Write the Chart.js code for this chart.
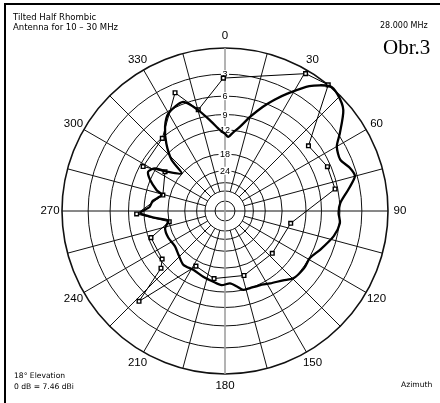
<!DOCTYPE html>
<html>
<head>
<meta charset="utf-8">
<script src="https://cdn.jsdelivr.net/npm/chart.js@4"></script>
<style>
  html, body { margin: 0; padding: 0; background: #fff; }
  #wrap { width: 440px; height: 403px; }
</style>
</head>
<body>
<div id="wrap"><canvas id="chart" width="440" height="403"></canvas></div>
<script>
// azimuth (deg) / relative gain (dB) in path order
const THICK_AZ = [0, 2.5, 6, 10, 15, 20, 24, 28, 34, 40, 44, 49.5, 56, 60, 66, 71, 75, 80, 86, 91, 96,
  103, 112, 119, 126, 134.6, 140, 148, 155, 162, 167, 171, 176, 182.6, 189.4, 198.3, 208, 217.7,
  226, 235, 245, 254, 260.3, 264, 268.5, 273, 278, 284.2, 287.1, 292.5, 297.1, 301.4, 304, 311,
  313.7, 319, 324.6, 330, 339, 345, 351, 356.5, 360];
const THICK_DB = [-12.8, -13.5, -12.4, -11.1, -8.8, -6.6, -5.0, -3.5, -1.35, 0, -0.1, -0.8, -2.8, -4.0,
  -4.4, -3.6, -3.3, -4.5, -5.9, -6.2, -5.9, -6.5, -7.9, -8.9, -8.8, -9.1, -10.1, -11.1, -11.8, -12.0,
  -12.0, -13.0, -13.9, -13.5, -14.1, -14.7, -15.3, -15.0, -16.0, -16.8, -16.4, -16.5, -17.9, -14.8,
  -11.2, -13.2, -13.8, -15.7, -14.1, -12.0, -10.9, -11.8, -14.4, -17.9, -13.6, -10.3, -7.8, -6.3,
  -5.7, -7.6, -10, -12, -12.8];

const MARK_AZ = [359.3, 30.4, 39.3, 52.0, 66.6, 78.7, 100.6, 131.8, 163.6, 189.2, 207.8, 223.6, 228.2,
  232.6, 250.2, 259.1, 268.1, 284.4, 303.2, 298.5, 319.2, 337.1, 345.2, 359.3];
const MARK_DB = [-3.5, -0.4, 0, -7.4, -6.5, -6.4, -15.3, -16.2, -15.2, -14.9, -16.5, -4.6, -11.0,
  -12.4, -12.5, -18.1, -10.5, -16.0, -14.1, -9.6, -9.1, -4.1, -7.6, -3.5];

const RING_DB = [0, -3, -6, -9, -12, -18, -24, -30, -36, -48];
const TICK_DB = [-3, -6, -9, -12, -18, -24];
const ANGLE_LABELS = ["0", "30", "60", "90", "120", "150", "180", "210", "240", "270", "300", "330"];

// ARRL log-periodic scale: 0.89 per 2 dB
function arrl(db) {
  return Math.pow(0.89, -db / 2);
}

function toXY(azList, dbList) {
  return azList.map((az, i) => {
    const a = az * Math.PI / 180;
    const r = arrl(dbList[i]);
    return { x: r * Math.sin(a), y: r * Math.cos(a) };
  });
}

const polarGrid = {
  id: "polarGrid",
  beforeDraw(chart) {
    const ctx = chart.ctx;
    ctx.save();
    ctx.fillStyle = "#fff";
    ctx.fillRect(0, 0, chart.width, chart.height);
    ctx.strokeStyle = "#000";
    ctx.lineWidth = 2;
    ctx.beginPath();
    ctx.moveTo(5, 403);
    ctx.lineTo(5, 4);
    ctx.lineTo(440, 4);
    ctx.stroke();

    ctx.fillStyle = "#000";
    ctx.textBaseline = "alphabetic";
    ctx.textAlign = "left";
    ctx.font = "8.5px 'DejaVu Sans'";
    ctx.fillText("Tilted Half Rhombic", 13, 20);
    ctx.fillText("Antenna for 10 \u2013 30 MHz", 13, 30);
    ctx.font = "8px 'DejaVu Sans'";
    ctx.fillText("28.000 MHz", 380, 28);
    ctx.font = "7.6px 'DejaVu Sans'";
    ctx.fillText("18\u00b0 Elevation", 14, 378);
    ctx.fillText("0 dB = 7.46 dBi", 14, 389);
    ctx.fillText("Azimuth", 401, 387);
    ctx.font = "21px 'Liberation Serif'";
    ctx.fillText("Obr.3", 383, 54);
    ctx.restore();
  },
  beforeDatasetsDraw(chart) {
    const { ctx, scales: { x, y } } = chart;
    const cx = x.getPixelForValue(0);
    const cy = y.getPixelForValue(0);
    const R = x.getPixelForValue(1) - cx;
    ctx.save();
    ctx.strokeStyle = "#111";

    RING_DB.forEach((db) => {
      ctx.lineWidth = db === 0 ? 1.6 : 1;
      ctx.beginPath();
      ctx.arc(cx, cy, R * arrl(db), 0, Math.PI * 2);
      ctx.stroke();
    });

    const rIn = R * arrl(-36);
    ctx.lineWidth = 1;
    for (let a = 0; a < 360; a += 15) {
      if (a % 90 === 0) continue;
      const t = a * Math.PI / 180;
      ctx.beginPath();
      ctx.moveTo(cx + rIn * Math.sin(t), cy - rIn * Math.cos(t));
      ctx.lineTo(cx + R * Math.sin(t), cy - R * Math.cos(t));
      ctx.stroke();
    }
    ctx.beginPath();
    ctx.moveTo(cx - R, cy);
    ctx.lineTo(cx + R, cy);
    ctx.stroke();
    ctx.strokeStyle = "#a0a0a0";
    ctx.lineWidth = 1.6;
    ctx.beginPath();
    ctx.moveTo(cx, cy - R);
    ctx.lineTo(cx, cy + R);
    ctx.stroke();

    ctx.font = "9px 'Liberation Sans'";
    ctx.textAlign = "center";
    ctx.textBaseline = "middle";
    TICK_DB.forEach((db) => {
      const ty = cy - R * arrl(db);
      const label = String(-db);
      const w = ctx.measureText(label).width;
      ctx.fillStyle = "#fff";
      ctx.fillRect(cx - w / 2 - 1.5, ty - 4, w + 3, 8);
      ctx.fillStyle = "#000";
      ctx.fillText(label, cx, ty + 0.5);
    });

    ctx.font = "11.5px 'Liberation Sans'";
    ANGLE_LABELS.forEach((label, i) => {
      const t = i * 30 * Math.PI / 180;
      const r = R + 12;
      ctx.fillText(label, cx + r * Math.sin(t), cy - r * Math.cos(t));
    });
    ctx.restore();
  }
};

new Chart(document.getElementById("chart"), {
  type: "scatter",
  data: {
    datasets: [
      {
        label: "pattern",
        data: toXY(THICK_AZ, THICK_DB),
        showLine: true,
        borderColor: "#000",
        borderWidth: 2.3,
        pointRadius: 0,
        tension: 0.25,
      },
      {
        label: "measured",
        data: toXY(MARK_AZ, MARK_DB),
        showLine: true,
        borderColor: "#000",
        borderWidth: 1,
        pointStyle: "rect",
        pointRadius: 2.6,
        pointBorderWidth: 1.4,
        pointBackgroundColor: "#fff",
        pointBorderColor: "#000",
        tension: 0,
      },
    ],
  },
  options: {
    responsive: false,
    animation: false,
    devicePixelRatio: 1,
    layout: { padding: { left: 62, right: 52, top: 48, bottom: 29 } },
    scales: {
      x: { type: "linear", min: -1, max: 1, display: false },
      y: { type: "linear", min: -1, max: 1, display: false },
    },
    plugins: {
      legend: { display: false },
      tooltip: { enabled: false },
    },
  },
  plugins: [polarGrid],
});
</script>
</body>
</html>
